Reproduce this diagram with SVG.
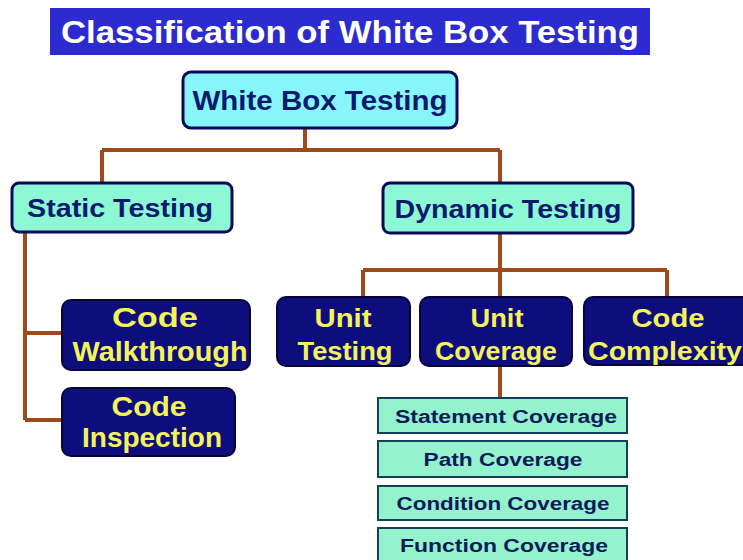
<svg xmlns="http://www.w3.org/2000/svg" width="743" height="560" viewBox="0 0 743 560">
  <style>
    .title { font-family: "Liberation Sans", Arial, sans-serif; font-weight: bold; font-size: 31px; fill: #ffffff; }
    .lbl { font-family: "Liberation Sans", Arial, sans-serif; font-weight: bold; font-size: 25px; fill: #0c1a6e; }
    .big { font-size: 28px; }
    .ylw { font-family: "Liberation Sans", Arial, sans-serif; font-weight: bold; font-size: 25px; fill: #f4f45a; }
    .ylw-l { font-size: 27px; }
    .sm { font-family: "Liberation Sans", Arial, sans-serif; font-weight: bold; font-size: 18px; fill: #0c1a5a; }
    .root { fill: #86f6fb; stroke: #0a0a5a; stroke-width: 3; }
    .mid { fill: #8cf8d4; stroke: #0a0a5a; stroke-width: 3; }
    .leaf { fill: #0d0d7e; stroke: #05053a; stroke-width: 2; }
    .cov { fill: #94f2cc; stroke: #16405a; stroke-width: 2; }
    .wire { fill: none; stroke: #a04a1c; stroke-width: 4; }
  </style>

  <rect width="743" height="560" fill="#ffffff"/>

  <!-- heading bar -->
  <g id="heading">
    <rect x="50" y="8" width="600" height="47" fill="#2b2bd0"/>
    <text class="title" x="350" y="43" text-anchor="middle" textLength="578" lengthAdjust="spacingAndGlyphs">Classification of White Box Testing</text>
  </g>

  <!-- connectors -->
  <g id="connectors">
    <path class="wire" d="M305 128 V150 M102 150 H500 M102 150 V183 M500 150 V183"/>
    <path class="wire" d="M25 233 V420 M25 333 H62 M25 420 H62"/>
    <path class="wire" d="M500 233 V270 M363 270 H667 M363 270 V297 M500 270 V297 M667 270 V297"/>
    <path class="wire" d="M500 366 V398"/>
  </g>

  <g id="white-box-testing">
    <rect class="root" x="183" y="72" width="274" height="56" rx="8"/>
    <text class="lbl big" x="320" y="110" text-anchor="middle" textLength="255" lengthAdjust="spacingAndGlyphs">White Box Testing</text>
  </g>

  <g id="static-testing">
    <rect class="mid" x="12" y="183" width="220" height="49" rx="7"/>
    <text class="lbl" x="120" y="217" text-anchor="middle" textLength="186" lengthAdjust="spacingAndGlyphs">Static Testing</text>
  </g>

  <g id="dynamic-testing">
    <rect class="mid" x="383" y="183" width="250" height="50" rx="7"/>
    <text class="lbl" x="508" y="218" text-anchor="middle" textLength="227" lengthAdjust="spacingAndGlyphs">Dynamic Testing</text>
  </g>

  <g id="code-walkthrough">
    <rect class="leaf" x="62" y="300" width="188" height="70" rx="9"/>
    <text class="ylw ylw-l" x="155" y="327" text-anchor="middle" textLength="86" lengthAdjust="spacingAndGlyphs">Code</text>
    <text class="ylw ylw-l" x="160" y="361" text-anchor="middle" textLength="175" lengthAdjust="spacingAndGlyphs">Walkthrough</text>
  </g>

  <g id="code-inspection">
    <rect class="leaf" x="62" y="388" width="173" height="68" rx="9"/>
    <text class="ylw ylw-l" x="149" y="416" text-anchor="middle" textLength="75" lengthAdjust="spacingAndGlyphs">Code</text>
    <text class="ylw ylw-l" x="152" y="447" text-anchor="middle" textLength="140" lengthAdjust="spacingAndGlyphs">Inspection</text>
  </g>

  <g id="unit-testing">
    <rect class="leaf" x="277" y="297" width="133" height="69" rx="9"/>
    <text class="ylw" x="343" y="327" text-anchor="middle" textLength="57" lengthAdjust="spacingAndGlyphs">Unit</text>
    <text class="ylw" x="345" y="360" text-anchor="middle" textLength="95" lengthAdjust="spacingAndGlyphs">Testing</text>
  </g>

  <g id="unit-coverage">
    <rect class="leaf" x="420" y="297" width="152" height="69" rx="9"/>
    <text class="ylw" x="497" y="327" text-anchor="middle" textLength="53" lengthAdjust="spacingAndGlyphs">Unit</text>
    <text class="ylw" x="496" y="360" text-anchor="middle" textLength="122" lengthAdjust="spacingAndGlyphs">Coverage</text>
  </g>

  <g id="code-complexity">
    <rect class="leaf" x="584" y="297" width="170" height="68" rx="9"/>
    <text class="ylw" x="668" y="327" text-anchor="middle" textLength="73" lengthAdjust="spacingAndGlyphs">Code</text>
    <text class="ylw" x="665" y="360" text-anchor="middle" textLength="154" lengthAdjust="spacingAndGlyphs">Complexity</text>
  </g>

  <g id="statement-coverage">
    <rect class="cov" x="378" y="398" width="249" height="35"/>
    <text class="sm" x="506" y="423" text-anchor="middle" textLength="222" lengthAdjust="spacingAndGlyphs">Statement Coverage</text>
  </g>

  <g id="path-coverage">
    <rect class="cov" x="378" y="441" width="249" height="36"/>
    <text class="sm" x="503" y="466" text-anchor="middle" textLength="159" lengthAdjust="spacingAndGlyphs">Path Coverage</text>
  </g>

  <g id="condition-coverage">
    <rect class="cov" x="378" y="486" width="249" height="34"/>
    <text class="sm" x="503" y="510" text-anchor="middle" textLength="213" lengthAdjust="spacingAndGlyphs">Condition Coverage</text>
  </g>

  <g id="function-coverage">
    <rect class="cov" x="378" y="528" width="249" height="36"/>
    <text class="sm" x="504" y="552" text-anchor="middle" textLength="208" lengthAdjust="spacingAndGlyphs">Function Coverage</text>
  </g>
</svg>
